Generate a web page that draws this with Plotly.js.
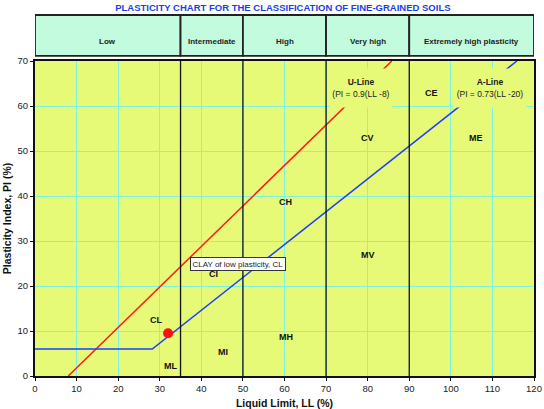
<!DOCTYPE html>
<html>
<head>
<meta charset="utf-8">
<script src="https://cdn.plot.ly/plotly-3.0.1.min.js"></script>
<style>
  html, body { margin: 0; padding: 0; background: #fff; }
  #plot { width: 544px; height: 409px; }
</style>
</head>
<body>
<div id="plot"></div>
<script>
// U-line: PI = 0.9(LL - 8), A-line: PI = 0.73(LL - 20) with PI = 6 floor
const uLineLL = [8, 85.8];
const uLinePI = [0, 70];
const aLineLL = [0, 28.2, 115.9];
const aLinePI = [6, 6, 70];

const sampleLL = [32];
const samplePI = [9.5];

const zoneEdges = [0, 35, 50, 70, 90, 120];
const zoneNames = ["Low", "Intermediate", "High", "Very high", "Extremely high plasticity"];

const groupNames = ["CL", "ML", "MI", "CI", "CH", "MH", "CV", "MV", "CE", "ME"];
const groupLL = [29.3, 32.5, 45.2, 43, 60.3, 60.3, 80, 80, 95.4, 106];
const groupPI = [12.4, 2.2, 5.3, 22.6, 38.7, 8.7, 52.9, 27, 63, 52.9];

const FONT = "Liberation Sans, Arial, sans-serif";
const YELLOW = "#e6fa78";
const MINT = "#c2fbde";
const GRID = "#7ff2e6";

const traces = [
  {
    x: uLineLL, y: uLinePI, type: "scatter", mode: "lines",
    line: { color: "#ff1a1a", width: 1.5 }, hoverinfo: "skip"
  },
  {
    x: aLineLL, y: aLinePI, type: "scatter", mode: "lines",
    line: { color: "#1a3fff", width: 1.5 }, hoverinfo: "skip"
  },
  {
    x: sampleLL, y: samplePI, type: "scatter", mode: "markers",
    marker: { color: "#ff1010", size: 10 }, hoverinfo: "skip"
  }
];

// header band above the plot (paper coords)
const hdrBottom = 1.016, hdrTop = 1.146;
const shapes = [];
zoneNames.forEach((n, i) => {
  shapes.push({
    type: "rect", xref: "x", yref: "paper",
    x0: zoneEdges[i], x1: zoneEdges[i + 1], y0: hdrBottom, y1: hdrTop,
    fillcolor: MINT, line: { color: "#222", width: 1.8 }, layer: "below"
  });
});
// zone dividers through the plot
zoneEdges.slice(1, -1).forEach((e) => {
  shapes.push({
    type: "line", xref: "x", yref: "y", x0: e, x1: e, y0: 0, y1: 70,
    line: { color: "#111", width: 1.3 }
  });
});

const annotations = [];
zoneNames.forEach((n, i) => {
  annotations.push({
    xref: "x", yref: "paper",
    x: (zoneEdges[i] + zoneEdges[i + 1]) / 2, y: (hdrBottom + hdrTop) / 2,
    text: "<b>" + n + "</b>", showarrow: false,
    font: { family: FONT, size: 8, color: "#222" }
  });
});
annotations.push({
  x: 78.3, y: 64, text: "<b>U-Line</b><br>(PI = 0.9(LL -8)", showarrow: false,
  font: { family: FONT, size: 8.5, color: "#222" }, bgcolor: YELLOW,
  width: 60, height: 36
});
annotations.push({
  x: 109.4, y: 64, text: "<b>A-Line</b><br>(PI = 0.73(LL -20)", showarrow: false,
  font: { family: FONT, size: 8.5, color: "#222" }, bgcolor: YELLOW,
  width: 70, height: 36
});
annotations.push({
  x: 48.8, y: 25, text: "CLAY of low plasticity, CL", showarrow: false,
  font: { family: FONT, size: 8, color: "#222" }, bgcolor: "#ffffff",
  bordercolor: "#333", borderwidth: 1, borderpad: 1.5
});
groupNames.forEach((n, i) => {
  annotations.push({
    x: groupLL[i], y: groupPI[i], text: "<b>" + n + "</b>", showarrow: false,
    font: { family: FONT, size: 9, color: "#111" }
  });
});

const layout = {
  width: 544, height: 409,
  margin: { l: 35, r: 10, t: 61, b: 33 },
  paper_bgcolor: "#ffffff",
  plot_bgcolor: YELLOW,
  showlegend: false,
  font: { family: FONT, size: 9, color: "#222" },
  title: {
    text: "<b>PLASTICITY CHART FOR THE CLASSIFICATION OF FINE-GRAINED SOILS</b>",
    font: { family: FONT, size: 9.5, color: "#1a3fe6" },
    x: 0.52, xanchor: "center", y: 0.982, yanchor: "middle"
  },
  xaxis: {
    range: [0, 120], dtick: 10, tick0: 0,
    showgrid: true, gridcolor: GRID, gridwidth: 1,
    zeroline: false, showline: true, linecolor: "#111", linewidth: 2, mirror: true,
    ticks: "outside", ticklen: 3, tickcolor: "#111",
    tickfont: { family: FONT, size: 9.5, color: "#222" },
    title: { text: "<b>Liquid Limit, LL (%)</b>", font: { family: FONT, size: 10.5, color: "#111" }, standoff: 6 }
  },
  yaxis: {
    range: [0, 70], dtick: 10, tick0: 0,
    showgrid: true, gridcolor: GRID, gridwidth: 1,
    zeroline: false, showline: true, linecolor: "#111", linewidth: 2, mirror: true,
    ticks: "outside", ticklen: 3, tickcolor: "#111",
    tickfont: { family: FONT, size: 9.5, color: "#222" },
    title: { text: "<b>Plasticity Index, PI (%)</b>", font: { family: FONT, size: 10.5, color: "#111" }, standoff: 4 }
  },
  shapes: shapes,
  annotations: annotations
};

Plotly.newPlot("plot", traces, layout, { staticPlot: true, displayModeBar: false });
</script>
</body>
</html>
